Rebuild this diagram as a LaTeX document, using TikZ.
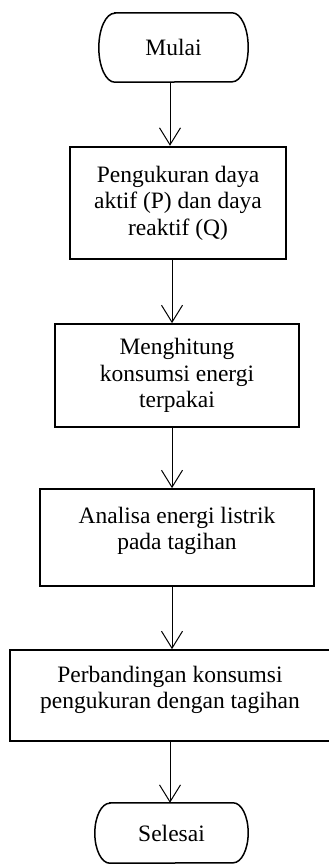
\documentclass[tikz,border=0pt]{standalone}
\usepackage{fontspec}
\setmainfont{Liberation Serif}
\usetikzlibrary{arrows.meta}

\tikzset{
  flowtext/.style={align=center, inner sep=0pt, font=\fontsize{23.5}{26.5}\selectfont},
  procbox/.style={draw, line width=1.7pt, flowtext},
  termbox/.style={draw=none, flowtext},
  flow/.style={line width=1pt, -{Straight Barb[length=17pt, width=21pt, line width=1pt]}},
}

% terminal outline: flat top and bottom, half-ellipse ends
\newcommand{\termoutline}[3]{%
  \draw[line width=1.5pt]
    ([xshift=#2]#1.north west) -- ([xshift=-#2]#1.north east)
    arc[start angle=90, end angle=-90, x radius=#2, y radius=#3]
    -- ([xshift=#2]#1.south west)
    arc[start angle=270, end angle=90, x radius=#2, y radius=#3]
    -- cycle;}

\begin{document}
\begin{tikzpicture}[x=1pt, y=1pt]
  \useasboundingbox (0,0) rectangle (329,-865);
  \fill[white] (0,0) rectangle (329,-865);

  \node[termbox, minimum width=149pt, minimum height=69pt] (mulai) at (173.5,-47.5) {Mulai};
  \node[procbox, line width=2.5pt, minimum width=216pt, minimum height=112pt] (ukur) at (178,-203)
    {Pengukuran daya\\aktif (P) dan daya\\reaktif (Q)};
  \node[procbox, minimum width=244pt, minimum height=103pt] (hitung) at (177,-375.5)
    {Menghitung\\konsumsi energi\\terpakai};
  \node[procbox, minimum width=274pt, minimum height=97pt] (analisa) at (177,-537.5) {};
  \node[flowtext] (analisatext) at (177,-531)
    {Analisa energi listrik\\pada tagihan};
  \node[procbox, minimum width=320pt, minimum height=91pt] (banding) at (170,-695.5) {};
  \node[flowtext] (bandingtext) at (170,-690)
    {Perbandingan konsumsi\\pengukuran dengan tagihan};
  \node[termbox, minimum width=153pt, minimum height=60pt] (selesai) at (171.5,-833) {Selesai};

  \termoutline{mulai}{16}{34.5}
  \termoutline{selesai}{15}{30}

  \draw[flow] ([xshift=-3.5pt]mulai.south) -- ([xshift=-3.5pt]mulai.south |- ukur.north);
  \draw[flow] ([xshift=-6pt]ukur.south) -- ([xshift=-6pt]ukur.south |- hitung.north);
  \draw[flow] ([xshift=-5pt]hitung.south) -- ([xshift=-5pt]hitung.south |- analisa.north);
  \draw[flow] ([xshift=-5pt]analisa.south) -- ([xshift=-5pt]analisa.south |- banding.north);
  \draw[flow] (banding.south) -- (banding.south |- selesai.north);
\end{tikzpicture}
\end{document}
